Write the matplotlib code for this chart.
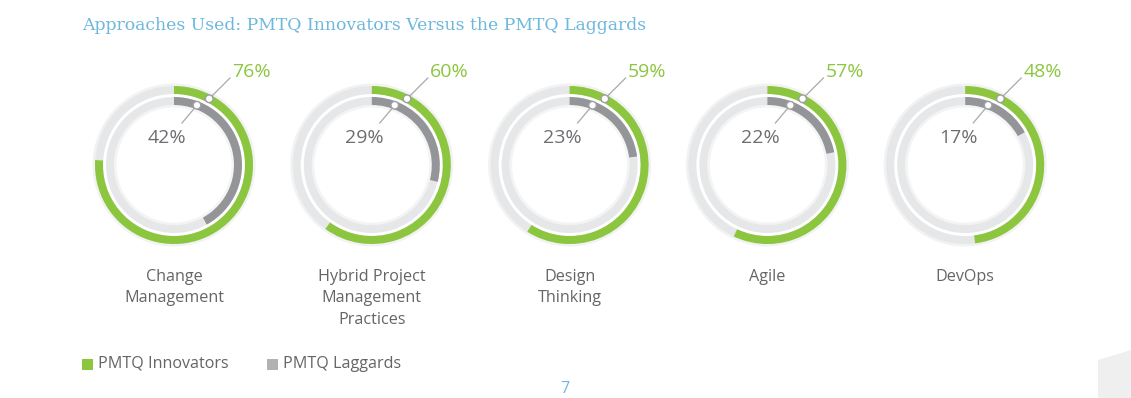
import matplotlib.pyplot as plt
from matplotlib.patches import Wedge, Circle, Polygon
import numpy as np

categories = ["Change\nManagement", "Hybrid Project\nManagement\nPractices",
              "Design\nThinking", "Agile", "DevOps"]
innovators = [76, 60, 59, 57, 48]
laggards = [42, 29, 23, 22, 17]

GREEN = "#8cc63f"
DARK = "#939598"
TRACK = "#e6e7e8"
BLUE = "#6db8dd"
TEXT = "#646568"

W, H = 1131, 398
fig = plt.figure(figsize=(W / 100, H / 100), dpi=100)
ax = fig.add_axes([0, 0, 1, 1])
ax.set_xlim(0, W)
ax.set_ylim(0, H)
ax.axis("off")

font = "Open Sans"

def py(y):
    # pixel row -> data y
    return H - y

cx0, step = 174, 197.8
cy = py(165)

for i, (cat, g, k) in enumerate(zip(categories, innovators, laggards)):
    cx = cx0 + i * step
    # soft shadow
    ax.add_patch(Wedge((cx, cy), 81.5, 0, 360, width=3.5, color="#f2f2f2", lw=0))
    ax.add_patch(Wedge((cx, cy), 60, 0, 360, width=2.5, color="#f4f4f4", lw=0))
    # outer ring
    ax.add_patch(Wedge((cx, cy), 79, 0, 360, width=8, color=TRACK, lw=0))
    ax.add_patch(Wedge((cx, cy), 79, 90 - 3.6 * g, 90, width=8, color=GREEN, lw=0))
    # inner ring
    ax.add_patch(Wedge((cx, cy), 68, 0, 360, width=8, color=TRACK, lw=0))
    ax.add_patch(Wedge((cx, cy), 68, 90 - 3.6 * k, 90, width=8, color=DARK, lw=0))

    # outer marker + leader
    a = np.radians(90 - 28)
    mx, my = cx + 75 * np.cos(a), cy + 75 * np.sin(a)
    ax.plot([mx, cx + 56], [my, py(78)], color="#a7a9ac", lw=0.9, zorder=5)
    ax.add_patch(Circle((mx, my), 3.8, facecolor="white", edgecolor="#9d9fa2", lw=1.0, zorder=6))
    ax.text(cx + 58, py(72), f"{g}%", color=GREEN, fontsize=14, family=font,
            ha="left", va="center")

    # inner marker + leader
    a = np.radians(90 - 21)
    mx, my = cx + 64 * np.cos(a), cy + 64 * np.sin(a)
    ax.plot([mx, cx + 8], [my, py(123)], color="#a7a9ac", lw=0.9, zorder=5)
    ax.add_patch(Circle((mx, my), 3.8, facecolor="white", edgecolor="#9d9fa2", lw=1.0, zorder=6))
    ax.text(cx - 7, py(138), f"{k}%", color="#6d6e71", fontsize=14, family=font,
            ha="center", va="center")

    ax.text(cx, py(269), cat, color=TEXT, fontsize=11.6, family=font,
            ha="center", va="top", linespacing=1.45)

ax.text(82, py(25), "Approaches Used: PMTQ Innovators Versus the PMTQ Laggards",
        color=BLUE, fontsize=12.4, family="DejaVu Serif", ha="left", va="center")

# legend
ax.add_patch(plt.Rectangle((82, py(370)), 11, 11, color=GREEN, lw=0))
ax.text(98, py(364), "PMTQ Innovators", color=TEXT, fontsize=11.6, family=font,
        ha="left", va="center")
ax.add_patch(plt.Rectangle((267, py(370)), 11, 11, color="#b1b2b4", lw=0))
ax.text(283, py(364), "PMTQ Laggards", color=TEXT, fontsize=11.6, family=font,
        ha="left", va="center")

ax.text(565, py(389), "7", color=BLUE, fontsize=11.5, family=font, ha="center", va="center")
ax.add_patch(Polygon([(1098, 0), (1098, py(360)), (W, py(350)), (W, 0)],
                     closed=True, color="#efefef", lw=0))

fig.savefig("out.png", dpi=100, facecolor="white")
